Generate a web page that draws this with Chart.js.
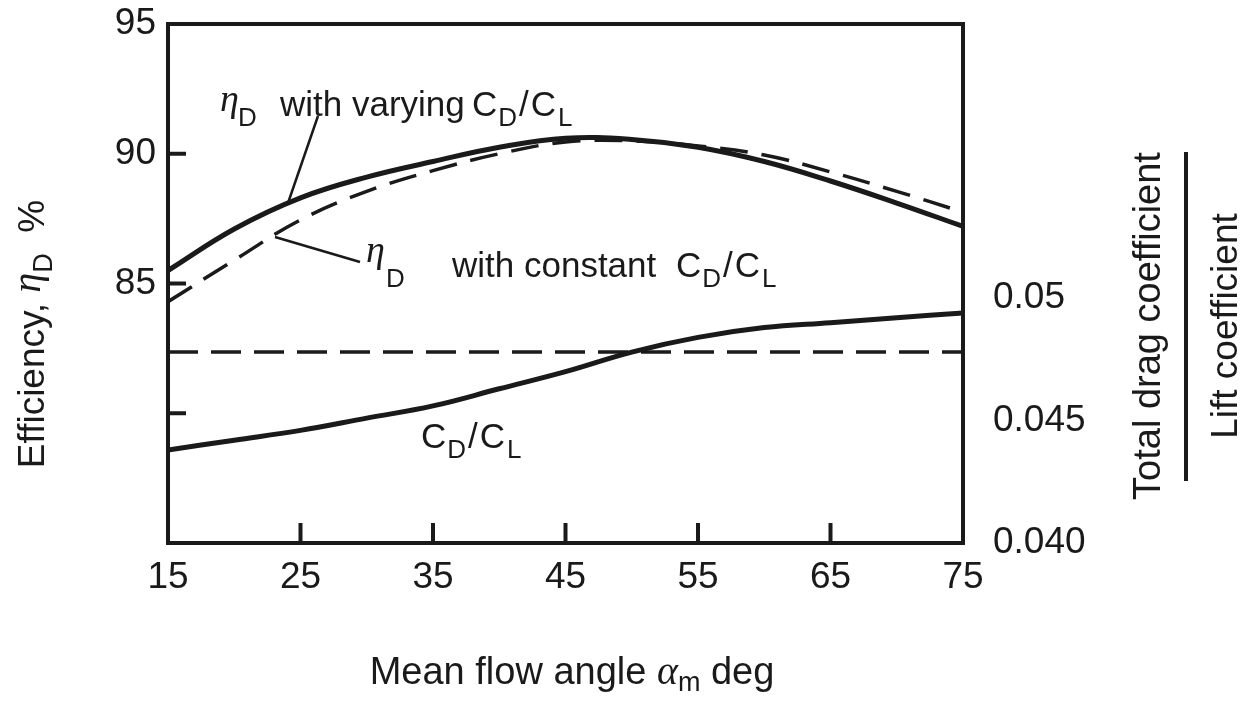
<!DOCTYPE html>
<html lang="en">
<head>
<meta charset="UTF-8">
<title>Efficiency and drag/lift ratio vs mean flow angle</title>
<style>
  body { margin: 0; background: #fff; }
  #chartBox { width: 1244px; height: 705px; }
</style>
</head>
<body>
<div id="chartBox"><canvas id="effChart" width="1244" height="705"></canvas></div>
<script src="https://cdn.jsdelivr.net/npm/chart.js"></script>
<script>
// values
const angles        = [15, 20, 25, 30, 35, 40, 45, 50, 55, 60, 65, 70, 75];
const etaVarying    = [85.5, 87.1, 88.3, 89.1, 89.7, 90.25, 90.6, 90.55, 90.25, 89.7, 88.95, 88.1, 87.2];
const etaConstant   = [84.3, 85.9, 87.45, 88.55, 89.35, 90.0, 90.45, 90.5, 90.3, 89.95, 89.3, 88.55, 87.75];
const dragLift      = [0.0438, 0.0442, 0.0446, 0.0451, 0.0456, 0.0463, 0.0470, 0.0478, 0.0484, 0.0488, 0.0490, 0.0492, 0.0494];
const dragLiftConst = [0.0478, 0.0478, 0.0478, 0.0478, 0.0478, 0.0478, 0.0478, 0.0478, 0.0478, 0.0478, 0.0478, 0.0478, 0.0478];

const xTicks          = [15, 25, 35, 45, 55, 65, 75];
const leftTicks       = [85, 90, 95];
const leftTickMarks   = [80, 85, 90];
const rightTicks      = [0.040, 0.045, 0.05];
const rightTickLabels = ['0.040', '0.045', '0.05'];

const SANS = '"Liberation Sans", Arial, Helvetica, sans-serif';
const SERIF = '"Liberation Serif", "Times New Roman", serif';
const INK = '#1a1a1a';

const pts = vals => angles.map((a, i) => ({ x: a, y: vals[i] }));

// draws a row of text pieces one after the other
function drawRow(ctx, x, y, parts) {
  let cx = x;
  parts.forEach(p => {
    ctx.font = p.font;
    ctx.fillText(p.text, cx + (p.dx || 0), y + (p.dy || 0));
    cx += ctx.measureText(p.text).width + (p.dx || 0);
  });
  return cx;
}
function rowWidth(ctx, parts) {
  let w = 0;
  parts.forEach(p => { ctx.font = p.font; w += ctx.measureText(p.text).width + (p.dx || 0); });
  return w;
}

const main = size => size + 'px ' + SANS;
const eta = size => 'italic ' + size + 'px ' + SERIF;

function cdcl(size, sub) {
  return [
    { text: 'C', font: main(size) },
    { text: 'D', font: main(sub), dy: 10, dx: 1 },
    { text: '/', font: main(size), dx: 2 },
    { text: 'C', font: main(size), dx: 2 },
    { text: 'L', font: main(sub), dy: 10, dx: 2 }
  ];
}

// no extra room for tick labels above/below the plot
const noPad = s => { s.paddingTop = 0; s.paddingBottom = 0; };

const decorPlugin = {
  id: 'decor',
  afterDraw(chart) {
    const ctx = chart.ctx;
    const a = chart.chartArea;
    const xs = chart.scales.x, ys = chart.scales.y;
    ctx.save();
    ctx.strokeStyle = INK;
    ctx.fillStyle = INK;

    // frame
    ctx.lineWidth = 4;
    ctx.strokeRect(a.left, a.top, a.right - a.left, a.bottom - a.top);

    // inward tick marks
    ctx.beginPath();
    xTicks.slice(1, -1).forEach(v => {
      const px = xs.getPixelForValue(v);
      ctx.moveTo(px, a.bottom);
      ctx.lineTo(px, a.bottom - 20);
    });
    leftTickMarks.forEach(v => {
      const py = ys.getPixelForValue(v);
      ctx.moveTo(a.left, py);
      ctx.lineTo(a.left + 18, py);
    });
    ctx.stroke();

    // leader lines
    ctx.lineWidth = 2.5;
    ctx.beginPath();
    ctx.moveTo(318, 116); ctx.lineTo(288, 203);
    ctx.moveTo(360, 262); ctx.lineTo(275, 237);
    ctx.stroke();

    ctx.textBaseline = 'alphabetic';
    ctx.textAlign = 'left';

    // annotations
    drawRow(ctx, 220, 111, [{ text: 'η', font: eta(38) }]);
    drawRow(ctx, 238, 126, [{ text: 'D', font: main(26) }]);
    drawRow(ctx, 280, 116, [{ text: 'with varying', font: main(35) }]);
    drawRow(ctx, 472, 116, cdcl(35, 26));

    drawRow(ctx, 366, 262, [{ text: 'η', font: eta(38) }]);
    drawRow(ctx, 386, 287, [{ text: 'D', font: main(26) }]);
    drawRow(ctx, 452, 277, [{ text: 'with constant', font: main(35) }]);
    drawRow(ctx, 676, 277, cdcl(35, 26));

    drawRow(ctx, 421, 448, cdcl(35, 26));

    // x axis title
    const xTitle = [
      { text: 'Mean flow angle ', font: main(38) },
      { text: 'α', font: eta(40) },
      { text: 'm', font: main(27), dy: 7 },
      { text: ' deg', font: main(38) }
    ];
    drawRow(ctx, 572 - rowWidth(ctx, xTitle) / 2, 684, xTitle);

    // left axis title
    const yTitle = [
      { text: 'Efficiency, ', font: main(37) },
      { text: 'η', font: eta(40), dy: -4 },
      { text: 'D', font: main(27), dy: 8 },
      { text: '  %', font: main(37) }
    ];
    ctx.save();
    ctx.translate(44, 334);
    ctx.rotate(-Math.PI / 2);
    drawRow(ctx, -rowWidth(ctx, yTitle) / 2, 0, yTitle);
    ctx.restore();

    // right axis title as a fraction
    ctx.save();
    ctx.translate(1160, 326);
    ctx.rotate(-Math.PI / 2);
    ctx.font = main(38);
    ctx.textAlign = 'center';
    ctx.fillText('Total drag coefficient', 0, 0);
    ctx.font = main(37);
    ctx.fillText('Lift coefficient', 0, 77);
    ctx.restore();
    ctx.fillRect(1184, 152, 4, 329);

    ctx.restore();
  }
};

const tickFont = { family: SANS, size: 37 };

new Chart(document.getElementById('effChart'), {
  type: 'line',
  data: {
    datasets: [
      {
        label: 'eta_D with varying CD/CL',
        data: pts(etaVarying),
        yAxisID: 'y',
        borderColor: INK,
        borderWidth: 5,
        tension: 0.4
      },
      {
        label: 'eta_D with constant CD/CL',
        data: pts(etaConstant),
        yAxisID: 'y',
        borderColor: INK,
        borderWidth: 3.5,
        borderDash: [28, 14],
        tension: 0.4
      },
      {
        label: 'CD/CL',
        data: pts(dragLift),
        yAxisID: 'y1',
        borderColor: INK,
        borderWidth: 5,
        tension: 0.4
      },
      {
        label: 'constant CD/CL',
        data: pts(dragLiftConst),
        yAxisID: 'y1',
        borderColor: INK,
        borderWidth: 3.5,
        borderDash: [30, 13]
      }
    ]
  },
  options: {
    responsive: false,
    animation: false,
    layout: { padding: { top: 24, left: 0, right: 0, bottom: 0 } },
    elements: { point: { radius: 0 } },
    plugins: {
      legend: { display: false },
      tooltip: { enabled: false }
    },
    scales: {
      x: {
        type: 'linear',
        min: 15,
        max: 75,
        afterBuildTicks: s => { s.ticks = xTicks.map(v => ({ value: v })); },
        afterFit: s => { s.height = 162; s.paddingLeft = 0; s.paddingRight = 0; },
        grid: { display: false, drawTicks: false },
        border: { display: false },
        ticks: { font: tickFont, color: INK, padding: 13, maxRotation: 0 }
      },
      y: {
        position: 'left',
        min: 75,
        max: 95,
        afterBuildTicks: s => { s.ticks = leftTicks.map(v => ({ value: v })); },
        afterFit: s => { s.width = 168; noPad(s); },
        grid: { display: false, drawTicks: false },
        border: { display: false },
        ticks: { font: tickFont, color: INK, padding: 12 }
      },
      y1: {
        position: 'right',
        min: 0.040,
        max: 0.0612,
        afterBuildTicks: s => { s.ticks = rightTicks.map(v => ({ value: v })); },
        afterFit: s => { s.width = 281; noPad(s); },
        grid: { display: false, drawTicks: false },
        border: { display: false },
        ticks: {
          font: tickFont,
          color: INK,
          padding: 30,
          callback: (v, i) => rightTickLabels[i]
        }
      }
    }
  },
  plugins: [decorPlugin]
});
</script>
</body>
</html>
